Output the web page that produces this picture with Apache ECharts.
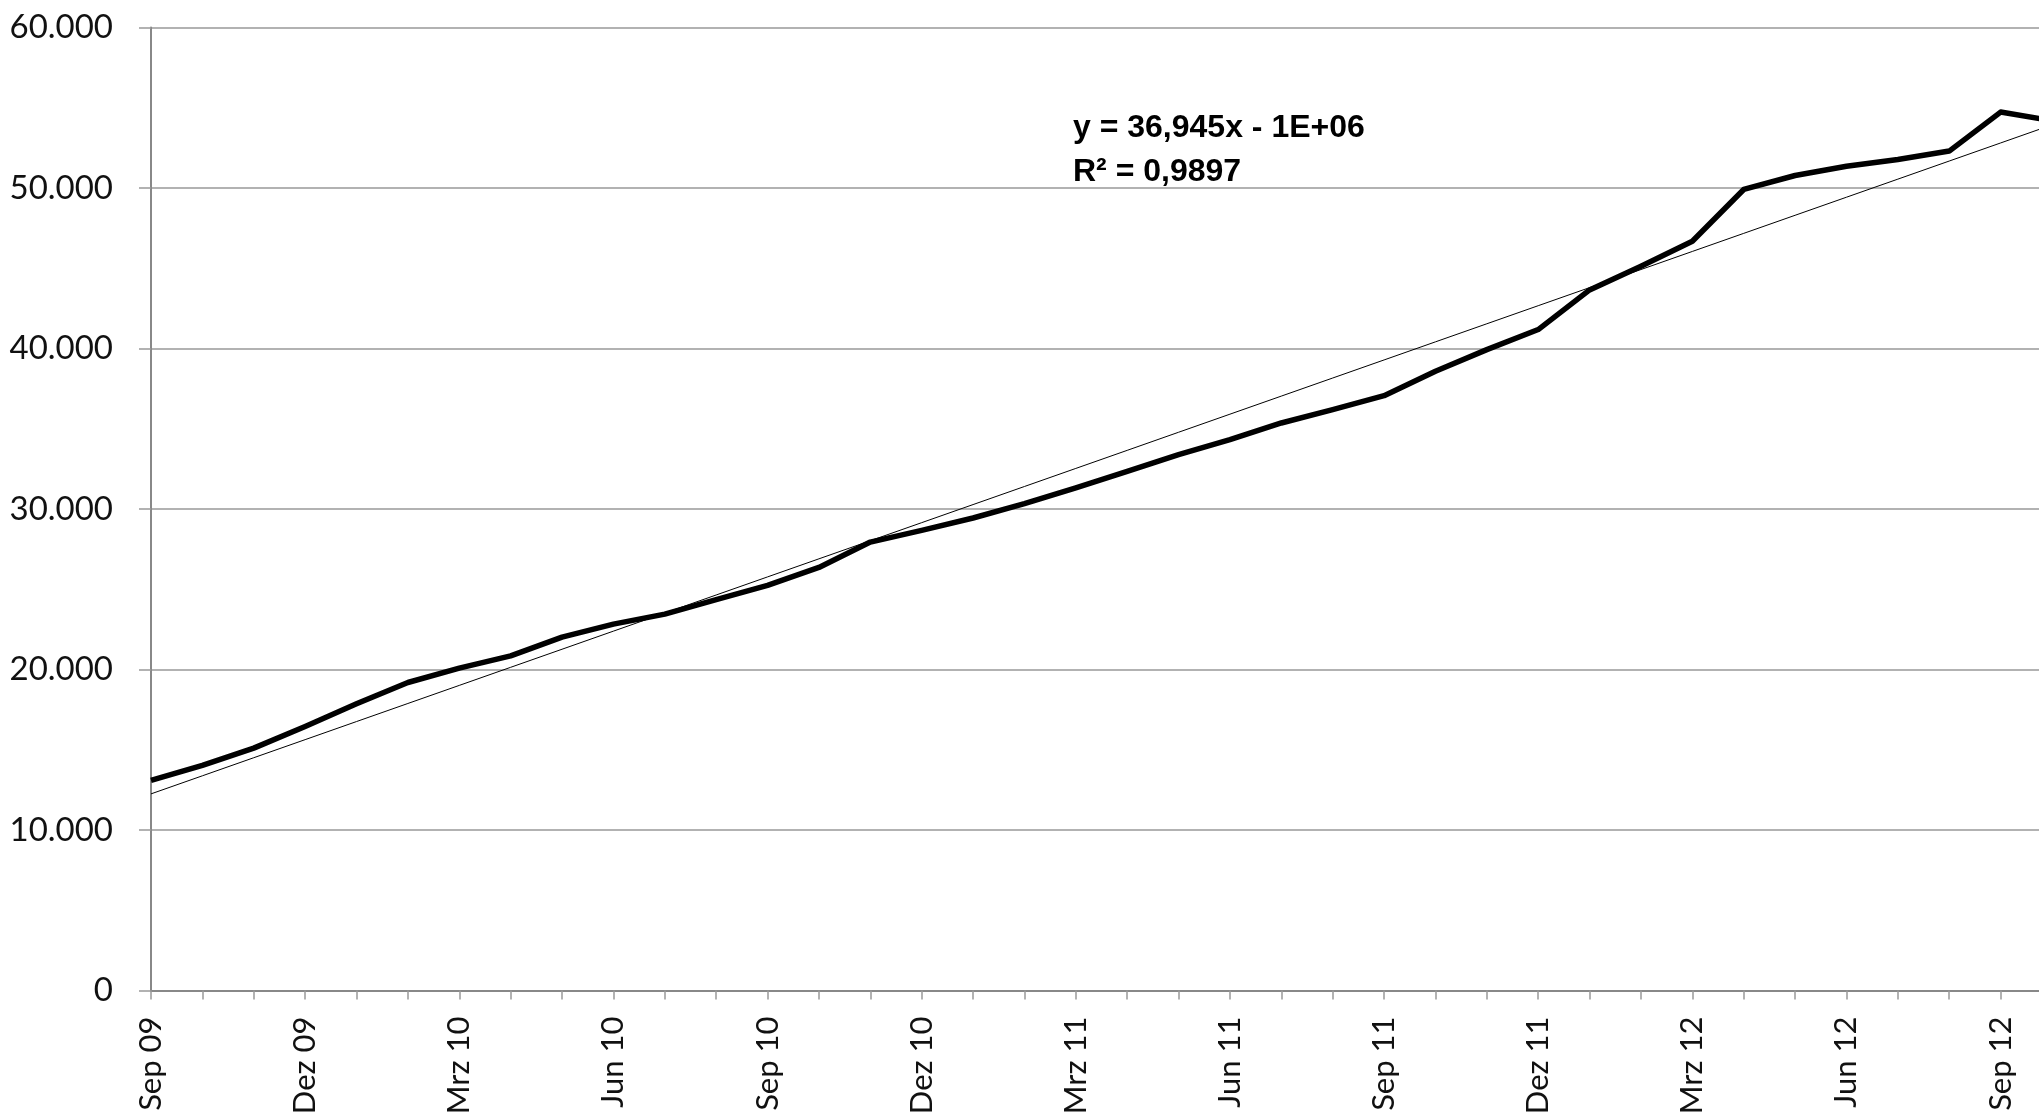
<!DOCTYPE html>
<html>
<head>
<meta charset="utf-8">
<script src="https://cdn.jsdelivr.net/npm/echarts@6/dist/echarts.min.js"></script>
<style>
html,body{margin:0;padding:0;background:#fff;}
#chart{width:2039px;height:1118px;}
</style>
</head>
<body>
<div id="chart"></div>
<script>
const categories = ['Sep 09','Okt 09','Nov 09','Dez 09','Jan 10','Feb 10','Mrz 10','Apr 10','Mai 10','Jun 10','Jul 10','Aug 10','Sep 10','Okt 10','Nov 10','Dez 10','Jan 11','Feb 11','Mrz 11','Apr 11','Mai 11','Jun 11','Jul 11','Aug 11','Sep 11','Okt 11','Nov 11','Dez 11','Jan 12','Feb 12','Mrz 12','Apr 12','Mai 12','Jun 12','Jul 12','Aug 12','Sep 12','Okt 12'];
const values = [13090,14020,15100,16450,17860,19190,20090,20850,22020,22830,23450,24350,25240,26360,27940,28670,29440,30330,31310,32350,33390,34320,35360,36190,37060,38580,39930,41180,43650,45130,46680,49910,50780,51360,51780,52300,54730,54200];
const yTicks = [0,10000,20000,30000,40000,50000,60000];
const trendLabel1 = 'y = 36,945x - 1E+06';
const trendLabel2 = 'R² = 0,9897';

// least-squares linear trend through the series
const n = values.length;
let sx=0, sy=0, sxx=0, sxy=0;
values.forEach((v,i)=>{sx+=i; sy+=v; sxx+=i*i; sxy+=i*v;});
const slope = (n*sxy - sx*sy)/(n*sxx - sx*sx);
const intercept = (sy - slope*sx)/n;
const trend = values.map((v,i)=>intercept + slope*i);

function fmt(v){ return String(v).replace(/\B(?=(\d{3})+(?!\d))/g,'.'); }

const axisFont = 'Lato, "Liberation Sans", Arial, sans-serif';

const chart = echarts.init(document.getElementById('chart'), null, {renderer:'canvas'});
chart.setOption({
  animation:false,
  backgroundColor:'#ffffff',
  grid:{left:151, right:-13, top:27.5, bottom:127.5, containLabel:false, outerBoundsMode:'none'},
  xAxis:{
    type:'category',
    data:categories,
    boundaryGap:false,
    axisLine:{show:true, lineStyle:{color:'#888888', width:2}},
    axisTick:{show:true, interval:0, length:9, lineStyle:{color:'#999999', width:1.5}},
    axisLabel:{interval:2, rotate:90, margin:26, fontSize:31, fontWeight:400, color:'#111111', fontFamily:axisFont, hideOverlap:false},
    splitLine:{show:false}
  },
  yAxis:{
    type:'value',
    min:yTicks[0], max:yTicks[yTicks.length-1], interval:10000,
    axisLine:{show:true, lineStyle:{color:'#888888', width:2}},
    axisTick:{show:true, length:12, lineStyle:{color:'#999999', width:1.5}},
    axisLabel:{margin:38, fontSize:33, fontWeight:400, color:'#111111', fontFamily:axisFont, formatter:fmt},
    splitLine:{show:true, lineStyle:{color:'#999999', width:1.5}}
  },
  series:[
    {type:'line', data:trend, symbol:'none', lineStyle:{color:'#000000', width:1}, z:3},
    {type:'line', data:values, symbol:'none', lineStyle:{color:'#000000', width:5.5, join:'round'}, z:4}
  ],
  graphic:[
    {type:'text', left:1073, top:112, style:{text:trendLabel1, fontSize:32, fontWeight:'bold', fontFamily:'Liberation Sans, Arial, sans-serif', fill:'#000'}},
    {type:'text', left:1073, top:156, style:{text:trendLabel2, fontSize:32, fontWeight:'bold', fontFamily:'Liberation Sans, Arial, sans-serif', fill:'#000'}}
  ]
});
</script>
</body>
</html>
